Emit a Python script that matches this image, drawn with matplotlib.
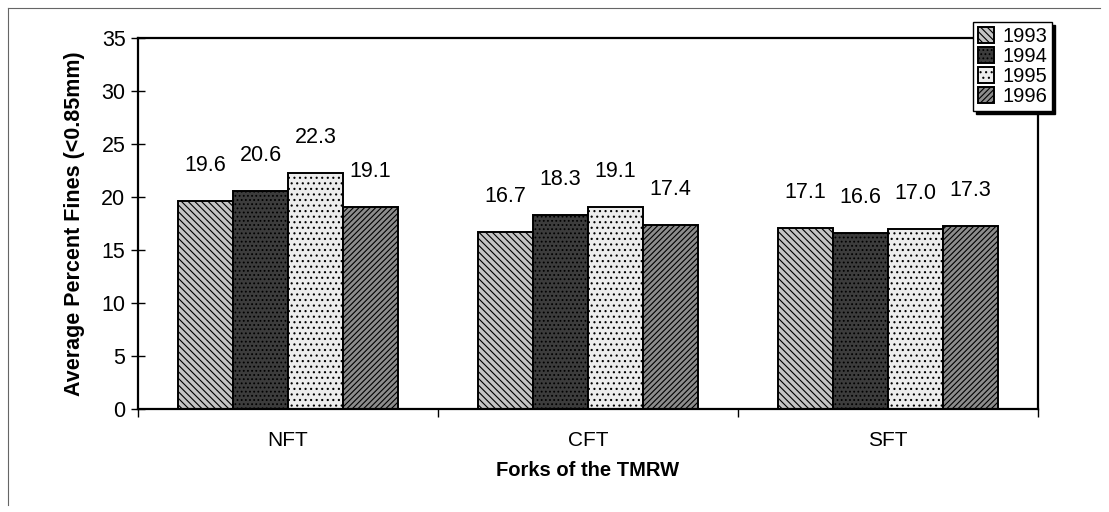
import numpy as np
import matplotlib
matplotlib.use("Agg")
import matplotlib.pyplot as plt

plt.rcParams["font.family"] = ["Liberation Sans", "DejaVu Sans"]
plt.rcParams["hatch.linewidth"] = 0.8

forks = ["NFT", "CFT", "SFT"]
years = ["1993", "1994", "1995", "1996"]
fines_1993 = [19.6, 16.7, 17.1]
fines_1994 = [20.6, 18.3, 16.6]
fines_1995 = [22.3, 19.1, 17.0]
fines_1996 = [19.1, 17.4, 17.3]

series = [fines_1993, fines_1994, fines_1995, fines_1996]
faces = ["#c4c4c4", "#3c3c3c", "#ececec", "#8c8c8c"]
hatches = ["\\\\\\\\\\", "....", "...", "//////"]

fig = plt.figure(figsize=(11.09, 5.12), dpi=100)
ax = fig.add_axes([138 / 1109, 1 - 409 / 512, 900 / 1109, 371 / 512])

x = np.arange(len(forks))
w = 0.733 / 4
for i, vals in enumerate(series):
    pos = x - 0.3665 + w * (i + 0.5)
    bars = ax.bar(pos, vals, w, color=faces[i], edgecolor="black",
                  hatch=hatches[i], lw=1.4, label=years[i], zorder=2)
    for b, v in zip(bars, vals):
        ax.annotate(f"{v:.1f}", (b.get_x() + b.get_width() / 2, v),
                    xytext=(0, 18), textcoords="offset points",
                    ha="center", va="bottom", fontsize=15.5)

ax.set_xlim(-0.5, 2.5)
ax.set_ylim(0, 35)
ax.set_yticks(range(0, 36, 5))
ax.set_xticks(x)
ax.set_xticklabels(forks, fontsize=15)
ax.set_xticks([-0.5, 0.5, 1.5, 2.5], minor=True)
ax.tick_params(axis="x", which="major", length=0, pad=16)
ax.tick_params(axis="x", which="minor", length=6, direction="out", width=1)
ax.tick_params(axis="y", direction="inout", length=10, width=1,
               labelsize=15.5, pad=4)
for s in ax.spines.values():
    s.set_linewidth(1.6)

ax.set_xlabel("Forks of the TMRW", fontsize=14.5, fontweight="bold",
              labelpad=8)
ax.set_ylabel("Average Percent Fines (<0.85mm)", fontsize=15.5,
              fontweight="bold", labelpad=12)

leg = ax.legend(loc="upper left", bbox_to_anchor=(973 / 1109, 1 - 22 / 512),
                bbox_transform=fig.transFigure, fontsize=14.5, frameon=True,
                shadow={"color": "black", "alpha": 1.0},
                fancybox=False, borderpad=0.25, labelspacing=0.05,
                handlelength=0.8, handleheight=0.8, handletextpad=0.4,
                borderaxespad=0)
leg.get_frame().set_edgecolor("black")
leg.get_frame().set_linewidth(1.0)

# outer chart frame (left and top edges)
fig.add_artist(plt.Line2D([8 / 1109, 8 / 1109], [1 - 505 / 512, 1 - 8 / 512],
                          color="0.4", lw=0.8))
fig.add_artist(plt.Line2D([8 / 1109, 1100 / 1109], [1 - 8 / 512, 1 - 8 / 512],
                          color="0.4", lw=0.8))

fig.savefig("out.png", dpi=100)
